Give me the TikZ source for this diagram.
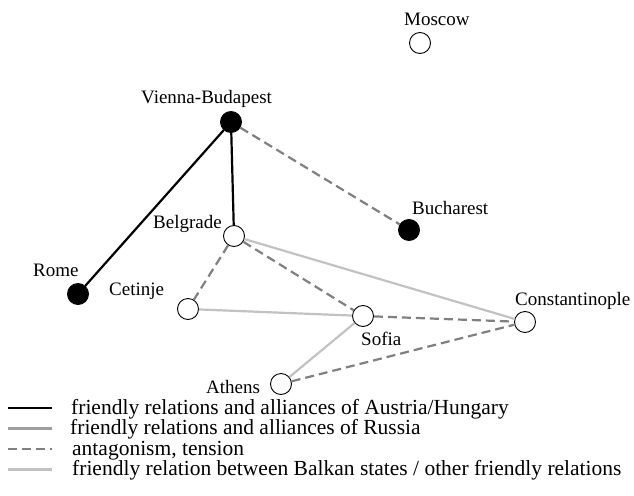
\documentclass[tikz,border=0pt]{standalone}
\usepackage{fontspec}
\setmainfont{Liberation Serif}
\newfontfamily\maplabelfont{Liberation Serif}
\begin{document}
\begin{tikzpicture}[x=1pt,y=-1pt,
  city/.style={circle,draw=black,line width=0.9pt,fill=white,minimum size=21pt,inner sep=0pt},
  capital/.style={city,fill=black},
  lbl/.style={anchor=base west,inner sep=0pt,font=\maplabelfont\fontsize{19}{22}\selectfont},
  legendtext/.style={anchor=base west,inner sep=0pt,font=\maplabelfont\fontsize{21.5}{24}\selectfont},
  austrialine/.style={draw=black,line width=2.2pt},
  russialine/.style={draw=black!38,line width=2.2pt},
  tensionline/.style={draw=black!50,line width=2.2pt,dash pattern=on 9pt off 5pt},
  balkanline/.style={draw=black!24,line width=2.2pt}]
\useasboundingbox (0,0) rectangle (634,495);
% cities
\node[city] (mos) at (420,43) {};
\node[capital] (vie) at (231,122) {};
\node[city] (bel) at (234,236) {};
\node[capital] (buc) at (409,230) {};
\node[capital] (rom) at (78,294) {};
\node[city] (cet) at (188,309) {};
\node[city] (sof) at (363,316) {};
\node[city] (con) at (525,322) {};
\node[city] (ath) at (281,384) {};
% labels
\node[lbl] (lmos) at (404,26) {Moscow};
\node[lbl] (lvie) at (141,103) {Vienna-Budapest};
\node[lbl] (lbel) at (153,228) {Belgrade};
\node[lbl] (lbuc) at (412,214) {Bucharest};
\node[lbl] (lrom) at (33,276) {Rome};
\node[lbl] (lcet) at (109,295) {Cetinje};
\node[lbl] (lsof) at (361,345) {Sofia};
\node[lbl] (lath) at (206,393) {Athens};
\node[lbl] (lcon) at (515,305) {Constantinople};
% connectors
\draw[austrialine] (vie) -- (rom);
\draw[austrialine] (vie) -- (bel);
\draw[tensionline] (vie) -- (buc);
\draw[tensionline] (bel) -- (cet);
\draw[tensionline] (bel) -- (sof);
\draw[balkanline] (bel) -- (con);
\draw[balkanline] (cet) -- (sof);
\draw[tensionline] (sof) -- (con);
\draw[balkanline] (sof) -- (ath);
\draw[tensionline] (ath) -- (con);
% legend
\coordinate (a1) at (8,408); \coordinate (b1) at (52,408);
\coordinate (a2) at (8,428.5); \coordinate (b2) at (52,428.5);
\coordinate (a3) at (8,449); \coordinate (b3) at (52,449);
\coordinate (a4) at (8,469.5); \coordinate (b4) at (52,469.5);
\draw[austrialine] (a1) -- (b1);
\draw[russialine] (a2) -- (b2);
\draw[tensionline] (a3) -- (b3);
\draw[balkanline] (a4) -- (b4);
\node[legendtext] (t1) at (71,414) {friendly relations and alliances of Austria/Hungary};
\node[legendtext] (t2) at (70,434.5) {friendly relations and alliances of Russia};
\node[legendtext] (t3) at (72,455) {antagonism, tension};
\node[legendtext] (t4) at (72,475.5) {friendly relation between Balkan states / other friendly relations};
\end{tikzpicture}
\end{document}
